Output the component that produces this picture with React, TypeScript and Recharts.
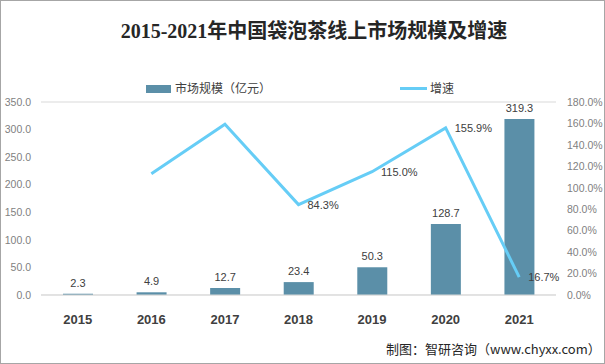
import React from 'react';
import { ComposedChart, Bar, Line, XAxis, YAxis, CartesianGrid, LabelList, Legend } from 'recharts';

const years = ['2015', '2016', '2017', '2018', '2019', '2020', '2021'];
const marketSize = [2.3, 4.9, 12.7, 23.4, 50.3, 128.7, 319.3];
const growth = [null, 113.0, 159.2, 84.3, 115.0, 155.9, 16.7];
const growthLabels = ['', '', '', '84.3%', '115.0%', '155.9%', '16.7%'];
const leftTicks = [0, 50, 100, 150, 200, 250, 300, 350];
const rightTicks = [0, 20, 40, 60, 80, 100, 120, 140, 160, 180];

const data = years.map((y, i) => ({
  year: y,
  size: marketSize[i],
  growth: growth[i],
  growthLabel: growthLabels[i],
}));

const BAR_COLOR = '#5b8fa8';
const LINE_COLOR = '#66cdf6';
const NUM_FONT = '"Liberation Sans", "Noto Sans CJK SC", sans-serif';
const CJK_FONT = '"Noto Sans CJK SC", "Liberation Sans", sans-serif';

const LegendContent = () => (
  <div style={{ position: 'relative', height: 20, fontFamily: CJK_FONT, fontSize: 12, color: '#404040' }}>
    <div style={{ position: 'absolute', left: 146, top: 7, width: 25, height: 8, background: BAR_COLOR }} />
    <div style={{ position: 'absolute', left: 175, top: 1 }}>市场规模（亿元）</div>
    <div style={{ position: 'absolute', left: 400, top: 9, width: 27, height: 3, background: LINE_COLOR }} />
    <div style={{ position: 'absolute', left: 430, top: 1 }}>增速</div>
  </div>
);

const GrowthLabel = (props: any) => {
  const { x, y, value } = props;
  if (!value) return null;
  return (
    <text x={x + 9} y={y + 4} fontSize={11} fill="#404040" fontFamily={NUM_FONT}>
      {value}
    </text>
  );
};

export default function App() {
  return (
    <div style={{ position: 'absolute', left: 0, top: 0, width: 605, height: 364, background: '#fff' }}>
      <div
        style={{
          position: 'absolute', left: 0, top: 0, width: 603, height: 362,
          border: '1px solid #a6a6a6', pointerEvents: 'none', zIndex: 2,
        }}
      />
      <div
        style={{
          position: 'absolute', left: 0, top: 15, width: 628, textAlign: 'center',
          fontFamily: '"Liberation Serif", "Noto Sans CJK SC", serif', fontWeight: 'bold',
          fontSize: 20, color: '#262626',
        }}
      >
        2015-2021年中国袋泡茶线上市场规模及增速
      </div>
      <ComposedChart
        width={605}
        height={364}
        data={data}
        margin={{ top: 82, right: 0, bottom: 29, left: 0 }}
        barCategoryGap="30%"
      >
        <CartesianGrid vertical={false} stroke="#d9d9d9" />
        <XAxis
          dataKey="year"
          axisLine={{ stroke: '#d9d9d9' }}
          tickLine={false}
          tickMargin={14}
          height={40}
          tick={{ fontSize: 13, fontWeight: 'bold', fill: '#404040', fontFamily: NUM_FONT }}
        />
        <YAxis
          yAxisId="left"
          width={41}
          domain={[0, 350]}
          ticks={leftTicks}
          axisLine={false}
          tickLine={false}
          tickMargin={4}
          tickFormatter={(v: number) => v.toFixed(1)}
          tick={{ fontSize: 10.5, fill: '#7f7f7f', fontFamily: NUM_FONT }}
        />
        <YAxis
          yAxisId="right"
          orientation="right"
          width={49}
          domain={[0, 180]}
          ticks={rightTicks}
          axisLine={false}
          tickLine={false}
          tickMargin={5}
          tickFormatter={(v: number) => v.toFixed(1) + '%'}
          tick={{ fontSize: 10.5, fill: '#7f7f7f', fontFamily: NUM_FONT, textAnchor: 'start' }}
        />
        <Legend verticalAlign="top" height={20} content={<LegendContent />} wrapperStyle={{ top: 78, left: 0, width: 605 }} />
        <Bar yAxisId="left" dataKey="size" fill={BAR_COLOR} barSize={30} isAnimationActive={false}>
          <LabelList
            dataKey="size"
            position="top"
            offset={7}
            style={{ fontSize: 11, fill: '#404040', fontFamily: NUM_FONT }}
            formatter={(v: any) => Number(v).toFixed(1)}
          />
        </Bar>
        <Line
          yAxisId="right"
          dataKey="growth"
          type="linear"
          stroke={LINE_COLOR}
          strokeWidth={3}
          dot={false}
          activeDot={false}
          isAnimationActive={false}
        >
          <LabelList dataKey="growthLabel" content={<GrowthLabel />} />
        </Line>
      </ComposedChart>
      <div
        style={{
          position: 'absolute', left: 386, top: 339, fontFamily: CJK_FONT,
          fontSize: 13, color: '#262626', whiteSpace: 'nowrap',
        }}
      >
        制图：智研咨询（www.chyxx.com）
      </div>
    </div>
  );
}
